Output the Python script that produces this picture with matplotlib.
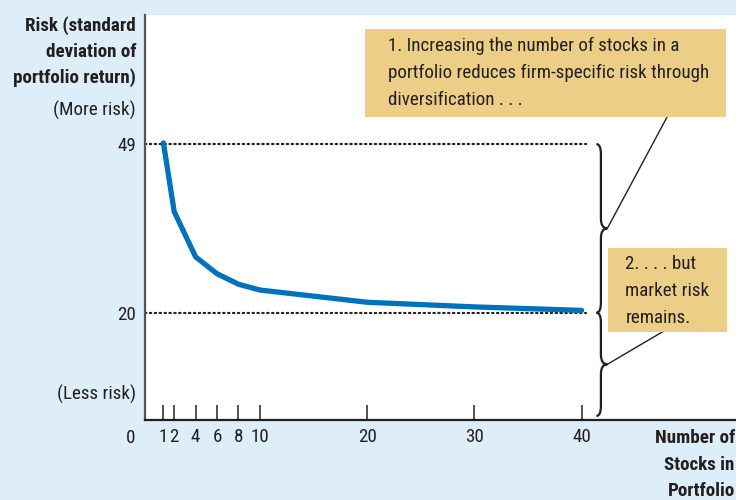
import matplotlib
matplotlib.use('Agg')
import matplotlib.pyplot as plt
from matplotlib.path import Path
from matplotlib.patches import PathPatch, Rectangle

plt.rcParams['font.family'] = ['Roboto Condensed', 'DejaVu Sans']

# data
n_stocks = [1, 2, 4, 6, 8, 10, 20, 30, 40]
risk = [49.2, 37.4, 29.6, 26.7, 24.9, 23.9, 21.8, 21.0, 20.4]
x_ticks = [1, 2, 4, 6, 8, 10, 20, 30, 40]
y_marks = [20, 49]
upper_risk, lower_risk = 49, 20

bg = '#DDEEF8'
tan = '#EDCE86'
blue = '#0071BC'
ink = '#231F20'
fs = 13.7

fig = plt.figure(figsize=(7.36, 5.0), dpi=100, facecolor=bg)
ax = fig.add_axes([145 / 736, 80 / 500, 591 / 736, 405 / 500])
ax.set_facecolor('white')
ax.set_xlim(-0.72, 54.4)
ax.set_ylim(1.55, 71.2)

for s in ['top', 'right']:
    ax.spines[s].set_visible(False)
ax.spines['left'].set_color('#555555')
ax.spines['left'].set_linewidth(1.6)
ax.spines['bottom'].set_color(ink)
ax.spines['bottom'].set_linewidth(1.6)

# dotted reference lines
for yv in y_marks:
    ax.plot([-0.72, 40.4], [yv, yv], color=ink, lw=1.6, ls=(0, (0.6, 1.6)),
            dash_capstyle='round', zorder=2)

ax.plot(n_stocks, risk, color=blue, lw=3.8, solid_capstyle='round', zorder=3)

ax.set_xticks(x_ticks)
ax.set_xticklabels([str(v) for v in x_ticks])
ax.tick_params(axis='x', direction='in', length=10.5, width=1.1, color=ink,
               labelsize=fs, labelcolor=ink, pad=5.5)
ax.set_yticks(y_marks)
ax.set_yticklabels([str(v) for v in y_marks])
ax.tick_params(axis='y', length=0, labelsize=fs, labelcolor=ink, pad=6.5)

ax.text(-0.024, -0.044, '0', transform=ax.transAxes, ha='center', va='center',
        fontsize=fs, color=ink)

# y axis captions
tf = ax.transAxes
ax.text(-0.0152, 0.975, 'Risk (standard', transform=tf, ha='right', va='center',
        fontsize=fs, fontweight='bold', color=ink)
ax.text(-0.0152, 0.909, 'deviation of', transform=tf, ha='right', va='center',
        fontsize=fs, fontweight='bold', color=ink)
ax.text(-0.0152, 0.846, 'portfolio return)', transform=tf, ha='right', va='center',
        fontsize=fs, fontweight='bold', color=ink)
ax.text(-0.0152, 0.765, '(More risk)', transform=tf, ha='right', va='center',
        fontsize=fs, color=ink)
ax.text(-0.0152, 0.062, '(Less risk)', transform=tf, ha='right', va='center',
        fontsize=fs, color=ink)

ax.text(0.998, -0.044, 'Number of', transform=tf, ha='right', va='center',
        fontsize=fs, fontweight='bold', color=ink)
ax.text(0.998, -0.112, 'Stocks in', transform=tf, ha='right', va='center',
        fontsize=fs, fontweight='bold', color=ink)
ax.text(0.998, -0.175, 'Portfolio', transform=tf, ha='right', va='center',
        fontsize=fs, fontweight='bold', color=ink)


def brace(x0, y_top, y_bot, w=0.42, tip=0.6, h=1.7):
    ym = (y_top + y_bot) / 2
    verts = [(x0 - w, y_top), (x0, y_top), (x0, y_top - h),
             (x0, ym + h), (x0, ym), (x0 + tip, ym),
             (x0, ym), (x0, ym - h),
             (x0, y_bot + h), (x0, y_bot), (x0 - w, y_bot)]
    codes = [Path.MOVETO, Path.CURVE3, Path.CURVE3,
             Path.LINETO, Path.CURVE3, Path.CURVE3,
             Path.CURVE3, Path.CURVE3,
             Path.LINETO, Path.CURVE3, Path.CURVE3]
    ax.add_patch(PathPatch(Path(verts, codes), fill=False, lw=1.6, ec=ink,
                           clip_on=False, zorder=4))
    return (x0 + tip, ym)


tip1 = brace(41.8, upper_risk, lower_risk)
tip2 = brace(41.8, lower_risk, 2.25)

# annotation boxes
ax.add_patch(Rectangle((0.372, 0.747), 0.611, 0.218, transform=tf, fc=tan,
                       ec='none', clip_on=False, zorder=5))
ax.text(0.411, 0.857, '1. Increasing the number of stocks in a\n'
        'portfolio reduces firm-specific risk through\ndiversification . . .',
        transform=tf, ha='left', va='center', fontsize=fs, color=ink,
        linespacing=1.66, zorder=6)
ax.add_patch(Rectangle((0.784, 0.218), 0.200, 0.206, transform=tf, fc=tan,
                       ec='none', clip_on=False, zorder=5))
ax.text(0.813, 0.318, '2. . . . but\nmarket risk\nremains.', transform=tf,
        ha='left', va='center', fontsize=fs, color=ink, linespacing=1.66, zorder=6)

ax.annotate('', xy=tip1, xycoords='data', xytext=(0.883, 0.747), textcoords='axes fraction',
            arrowprops=dict(arrowstyle='-', lw=1.0, color=ink, shrinkA=0, shrinkB=0),
            zorder=4, annotation_clip=False)
ax.annotate('', xy=tip2, xycoords='data', xytext=(0.876, 0.218), textcoords='axes fraction',
            arrowprops=dict(arrowstyle='-', lw=1.0, color=ink, shrinkA=0, shrinkB=0),
            zorder=4, annotation_clip=False)

fig.savefig('out.png', dpi=100, facecolor=bg)
